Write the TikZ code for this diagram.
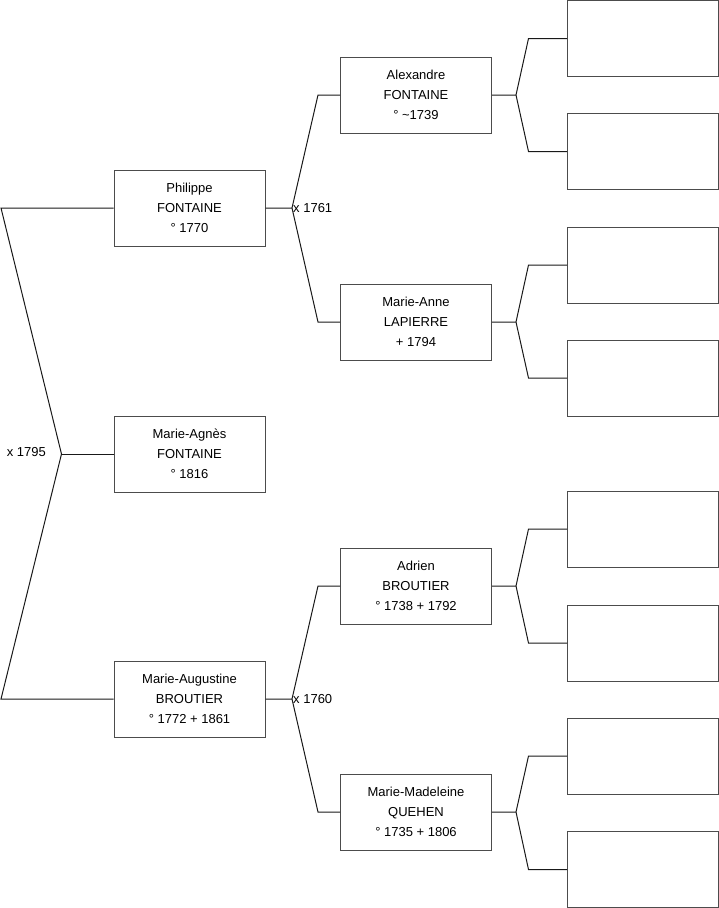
\documentclass[tikz,border=0pt]{standalone}
\usepackage{fontspec}
\setmainfont{Liberation Sans}
\usetikzlibrary{positioning}
\tikzset{
  person/.style={draw=black!70, line width=1pt, minimum width=151pt,
    minimum height=76pt, inner sep=0pt, align=center,
    font=\fontsize{13}{20}\selectfont},
  link/.style={draw=black!90, line width=1pt},
  wedding/.style={inner sep=1pt, font=\fontsize{13}{16}\selectfont},
}

\begin{document}
\begin{tikzpicture}[x=1pt, y=-1pt]
\useasboundingbox (0,0) rectangle (719,908);
% Generation 1 and 2
\node[person] (agnes) at (189.5,454) {Marie-Agnès\\FONTAINE\\° 1816};
\node[person] (philippe) at (189.5,208) {Philippe\\FONTAINE\\° 1770};
\node[person] (augustine) at (189.5,699) {Marie-Augustine\\BROUTIER\\° 1772 + 1861};
% Generation 3
\node[person] (alexandre) at (416,95) {Alexandre\\FONTAINE\\° \textasciitilde1739};
\node[person] (marieanne) at (416,322) {Marie-Anne\\LAPIERRE\\+ 1794};
\node[person] (adrien) at (416,586) {Adrien\\BROUTIER\\° 1738 + 1792};
\node[person] (madeleine) at (416,812) {Marie-Madeleine\\QUEHEN\\° 1735 + 1806};
% Generation 4, empty boxes
\foreach \y [count=\i] in {38.5,151.5,265,378,529,643,756,869.5}{
  \node[person] (g\i) at (643,\y) {};
}
% Parents of Marie-Agnes
\coordinate (root-f) at ([xshift=-52pt]agnes.west);
\coordinate (root-t) at (1,208);
\coordinate (root-b) at (1,699);
\draw[link] (agnes.west) -- (root-f);
\draw[link] (philippe.west) -- (root-t) -- (root-f) -- (root-b) -- (augustine.west);
\node[wedding, anchor=east] (m1795) at (47,452) {x 1795};
% Grandparents
\foreach \p/\a/\b/\d in {philippe/alexandre/marieanne/1761,
                         augustine/adrien/madeleine/1760}{
  \coordinate (\p-f) at ([xshift=26.5pt]\p.east);
  \coordinate (\p-t) at ([xshift=-22pt]\a.west);
  \coordinate (\p-b) at ([xshift=-22pt]\b.west);
  \draw[link] (\p.east) -- (\p-f) -- (\p-t) -- (\a.west);
  \draw[link] (\p-f) -- (\p-b) -- (\b.west);
  \node[wedding, anchor=west] (m\d) at (\p-f) {x \d};
}
% Great-grandparents
\foreach \p/\i/\j in {alexandre/1/2, marieanne/3/4, adrien/5/6, madeleine/7/8}{
  \coordinate (\p-f) at ([xshift=24pt]\p.east);
  \coordinate (\p-t) at ([xshift=-38.5pt]g\i.west);
  \coordinate (\p-b) at ([xshift=-38.5pt]g\j.west);
  \draw[link] (\p.east) -- (\p-f) -- (\p-t) -- (g\i.west);
  \draw[link] (\p-f) -- (\p-b) -- (g\j.west);
}
\end{tikzpicture}
\end{document}
